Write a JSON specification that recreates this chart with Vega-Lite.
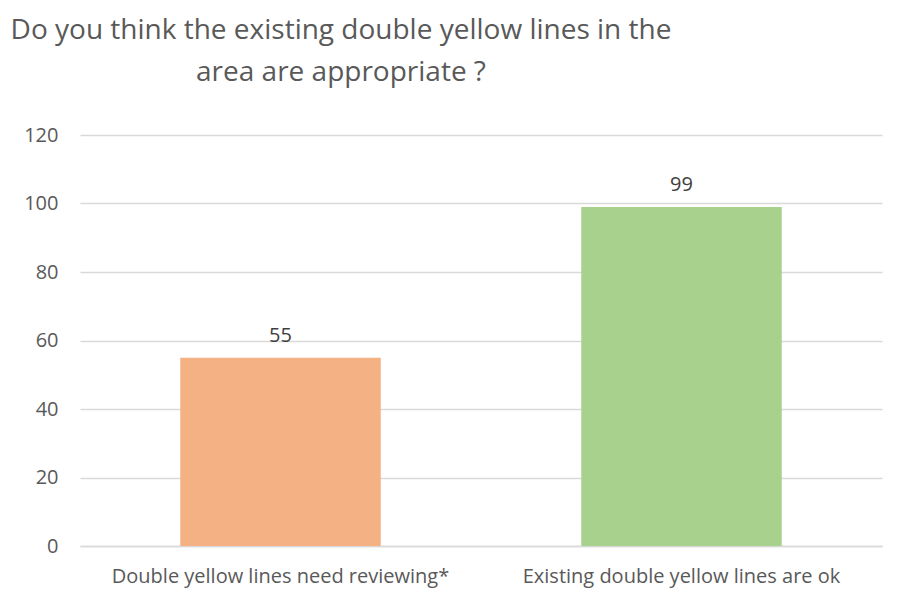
{
  "$schema": "https://vega.github.io/schema/vega-lite/v6.json",
  "width": 802,
  "height": 411,
  "autosize": {"type": "none"},
  "padding": {"left": 80, "top": 135, "right": 30, "bottom": 62},
  "background": "white",
  "title": {
    "text": ["Do you think the existing double yellow lines in the", "area are appropriate ?"],
    "anchor": "start",
    "align": "center",
    "dx": 261,
    "offset": 38,
    "baseline": "top",
    "font": "Open Sans",
    "fontSize": 28,
    "fontWeight": "normal",
    "color": "#595959",
    "lineHeight": 42,
    "frame": "group"
  },
  "data": {
    "values": [
      {"category": "Double yellow lines need reviewing*", "count": 55},
      {"category": "Existing double yellow lines are ok", "count": 99}
    ]
  },
  "encoding": {
    "x": {
      "field": "category",
      "type": "nominal",
      "sort": null,
      "scale": {"paddingInner": 0.5, "paddingOuter": 0.25},
      "axis": {
        "title": null,
        "labelAngle": 0,
        "labelFont": "Open Sans",
        "labelFontSize": 20,
        "labelLimit": 0,
        "labelColor": "#595959",
        "labelPadding": 20,
        "ticks": false,
        "domainColor": "#D9D9D9",
        "domainWidth": 1.5
      }
    },
    "y": {
      "field": "count",
      "type": "quantitative",
      "scale": {"domain": [0, 120]},
      "axis": {
        "title": null,
        "values": [0, 20, 40, 60, 80, 100, 120],
        "labelFont": "Open Sans",
        "labelFontSize": 20,
        "labelColor": "#595959",
        "labelPadding": 22,
        "ticks": false,
        "domain": false,
        "gridColor": "#D9D9D9",
        "gridWidth": 1.5
      }
    }
  },
  "layer": [
    {
      "mark": {"type": "bar"},
      "encoding": {
        "color": {
          "field": "category",
          "type": "nominal",
          "scale": {"range": ["#F4B183", "#A9D18E"]},
          "legend": null
        }
      }
    },
    {
      "mark": {"type": "text", "dy": -12, "baseline": "bottom", "font": "Open Sans", "fontSize": 20, "color": "#404040"},
      "encoding": {"text": {"field": "count", "type": "quantitative"}}
    }
  ],
  "config": {"view": {"stroke": null}}
}
